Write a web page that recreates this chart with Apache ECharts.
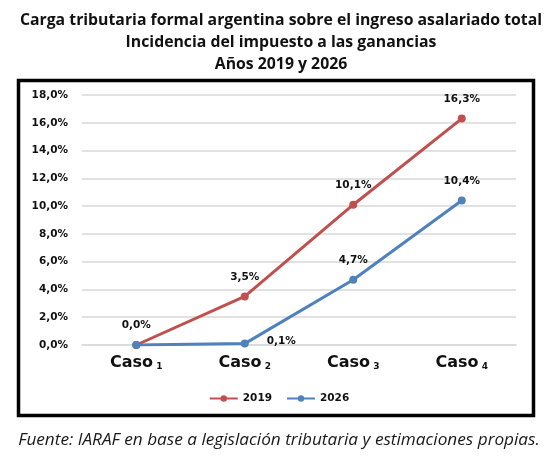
<!DOCTYPE html>
<html>
<head>
<meta charset="utf-8">
<script src="https://cdn.jsdelivr.net/npm/echarts@6/dist/echarts.min.js"></script>
<style>
  html, body { margin: 0; padding: 0; background: #fff; }
  #main { width: 558px; height: 460px; }
</style>
</head>
<body>
<div id="main"></div>
<script>
var casos = ['1', '2', '3', '4'];
var serie2019 = [0.0, 3.5, 10.1, 16.3];
var serie2026 = [0.0, 0.1, 4.7, 10.4];
var nombres = ['2019', '2026'];

var myChart = echarts.init(document.getElementById('main'));

function pct(v) {
    return v.toFixed(1).replace('.', ',') + '%';
}

var numFont = 'DejaVu Sans';

// la etiqueta de 0,1% va a la derecha del punto
var datos2026 = serie2026.map(function (v, i) {
    if (i === 1) {
        return { value: v, label: { position: 'right', distance: 18, offset: [0, -2] } };
    }
    return v;
});

var option = {
    backgroundColor: '#fff',
    animation: false,
    title: [{
        text: 'Carga tributaria formal argentina sobre el ingreso asalariado total\nIncidencia del impuesto a las ganancias\nAños 2019 y 2026',
        left: 276,
        top: 4,
        textAlign: 'center',
        textStyle: {
            fontFamily: 'Open Sans',
            fontWeight: 'bold',
            fontSize: 15.8,
            lineHeight: 22,
            color: '#111'
        }
    }, {
        text: 'Fuente: IARAF en base a legislación tributaria y estimaciones propias.',
        left: 274,
        top: 427,
        textAlign: 'center',
        textStyle: {
            fontFamily: 'Open Sans',
            fontStyle: 'italic',
            fontWeight: 'normal',
            fontSize: 17.2,
            color: '#1a1a1a'
        }
    }],
    graphic: [{
        type: 'rect',
        shape: { x: 18.5, y: 80.5, width: 515, height: 335 },
        style: { fill: 'none', stroke: '#000', lineWidth: 3.5 }
    }],
    legend: {
        data: nombres,
        left: 'center',
        top: 388,
        itemWidth: 28,
        itemHeight: 8,
        itemGap: 14,
        textStyle: {
            fontFamily: numFont,
            fontWeight: 'bold',
            fontSize: 10.5,
            color: '#111'
        }
    },
    grid: {
        left: 82,
        right: 42,
        top: 95,
        bottom: 115
    },
    xAxis: {
        type: 'category',
        data: casos,
        boundaryGap: true,
        axisLine: { show: true, lineStyle: { color: '#d9d9d9', width: 1.5 } },
        axisTick: { show: false },
        axisLabel: {
            margin: 10,
            formatter: function (v) {
                return '{c|Caso} {n|' + v + '}';
            },
            rich: {
                c: { fontFamily: numFont, fontWeight: 'bold', fontSize: 16, color: '#111' },
                n: { fontFamily: numFont, fontWeight: 'bold', fontSize: 9, color: '#111', verticalAlign: 'bottom', padding: [4, 0, 0, 0] }
            }
        }
    },
    yAxis: {
        type: 'value',
        min: 0,
        max: 18,
        interval: 2,
        axisLine: { show: false },
        axisTick: { show: false },
        splitLine: { lineStyle: { color: '#d9d9d9', width: 1.5 } },
        axisLabel: {
            margin: 14,
            formatter: function (v) { return pct(v); },
            fontFamily: numFont,
            fontWeight: 'bold',
            fontSize: 10.5,
            color: '#111'
        }
    },
    series: [{
        name: nombres[0],
        type: 'line',
        data: serie2019,
        symbol: 'circle',
        symbolSize: 8,
        itemStyle: { color: '#c0504d' },
        lineStyle: { width: 3, color: '#c0504d' },
        label: {
            show: true,
            position: 'top',
            distance: 10,
            formatter: function (p) { return pct(p.value); },
            fontFamily: numFont,
            fontWeight: 'bold',
            fontSize: 10.5,
            color: '#111'
        },
        z: 2
    }, {
        name: nombres[1],
        type: 'line',
        data: datos2026,
        symbol: 'circle',
        symbolSize: 8,
        itemStyle: { color: '#4f81bd' },
        lineStyle: { width: 3, color: '#4f81bd' },
        label: {
            show: true,
            position: 'top',
            distance: 10,
            formatter: function (p) {
                if (p.dataIndex === 0) return '';
                return pct(p.value);
            },
            fontFamily: numFont,
            fontWeight: 'bold',
            fontSize: 10.5,
            color: '#111'
        },
        z: 3
    }]
};

myChart.setOption(option);
</script>
</body>
</html>
